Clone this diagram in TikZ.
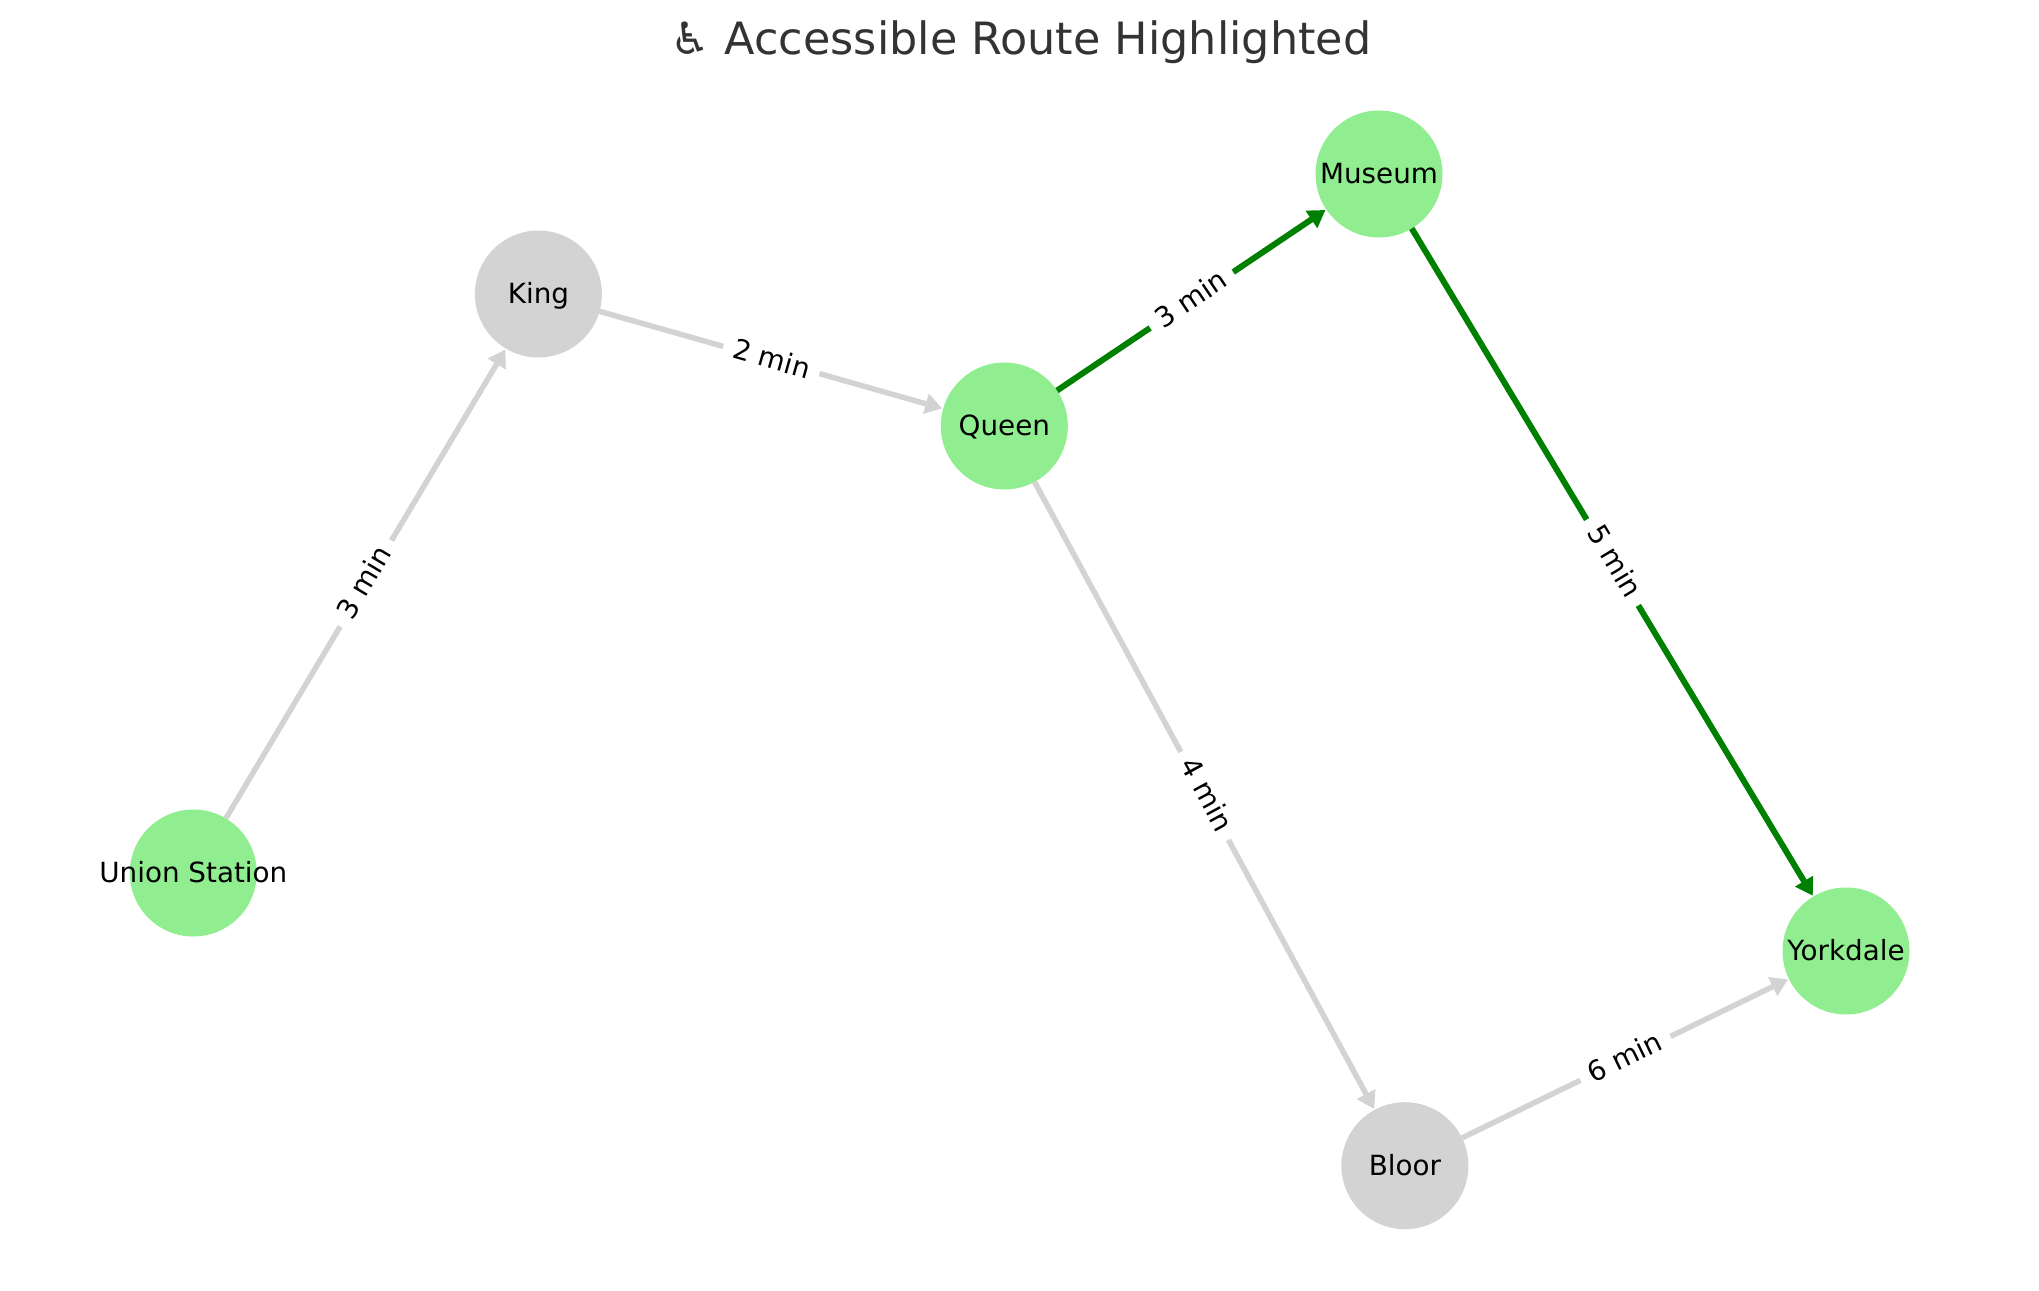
\documentclass[tikz,border=0pt]{standalone}
\usepackage{fontspec}
\setmainfont{DejaVu Sans}
\usetikzlibrary{arrows.meta}
\definecolor{lgreen}{HTML}{90EE90}
\definecolor{lgray}{HTML}{D3D3D3}
\definecolor{rgreen}{HTML}{008000}
\definecolor{titlegray}{HTML}{333333}
\tikzset{
  station/.style={circle,draw=none,minimum size=127pt,inner sep=0pt,outer sep=0pt},
  ok/.style={station,fill=lgreen},
  plain/.style={station,fill=lgray},
  nametext/.style={font=\fontsize{27.8}{33}\selectfont,text=black,inner sep=0pt,text height=23pt,text depth=4pt},
  grayedge/.style={line width=5.5pt,-{Triangle[length=17pt,width=20pt]},shorten >=1pt,draw=lgray},
  greenedge/.style={line width=6pt,-{Triangle[length=17pt,width=20pt]},shorten >=1pt,draw=rgreen},
  timetext/.style={font=\fontsize{27.8}{33}\selectfont,text=black,fill=white,sloped,pos=0.5,inner xsep=10.5pt,inner ysep=6pt,text height=23pt,text depth=4pt}
}
\begin{document}
\begin{tikzpicture}[x=1pt,y=-1pt]
\useasboundingbox (0,0) rectangle (2039,1290);
\node[font=\fontsize{44.5}{52}\selectfont,text=titlegray,anchor=base,inner sep=0pt] (title) at (1021,55) {♿ Accessible Route Highlighted};
\node[ok,label={[nametext]center:Union Station}] (union) at (193.3,873) {};
\node[plain,label={[nametext]center:King}] (king) at (538.4,294) {};
\node[ok,label={[nametext]center:Queen}] (queen) at (1004.3,426) {};
\node[ok,label={[nametext]center:Museum}] (museum) at (1379,174) {};
\node[plain,label={[nametext]center:Bloor}] (bloor) at (1404.9,1165.7) {};
\node[ok,label={[nametext]center:Yorkdale}] (yorkdale) at (1846,951) {};
\draw[grayedge] (union) -- node[timetext,yshift=2pt] (l1) {3 min} (king);
\draw[grayedge] (king) -- node[timetext,yshift=1pt] (l2) {2 min} (queen);
\draw[greenedge] (queen) -- node[timetext,yshift=1pt] (l3) {3 min} (museum);
\draw[grayedge] (queen) -- node[timetext,yshift=2.5pt] (l4) {4 min} (bloor);
\draw[greenedge] (museum) -- node[timetext,yshift=2.5pt] (l5) {5 min} (yorkdale);
\draw[grayedge] (bloor) -- node[timetext,yshift=1pt] (l6) {6 min} (yorkdale);
\end{tikzpicture}
\end{document}
